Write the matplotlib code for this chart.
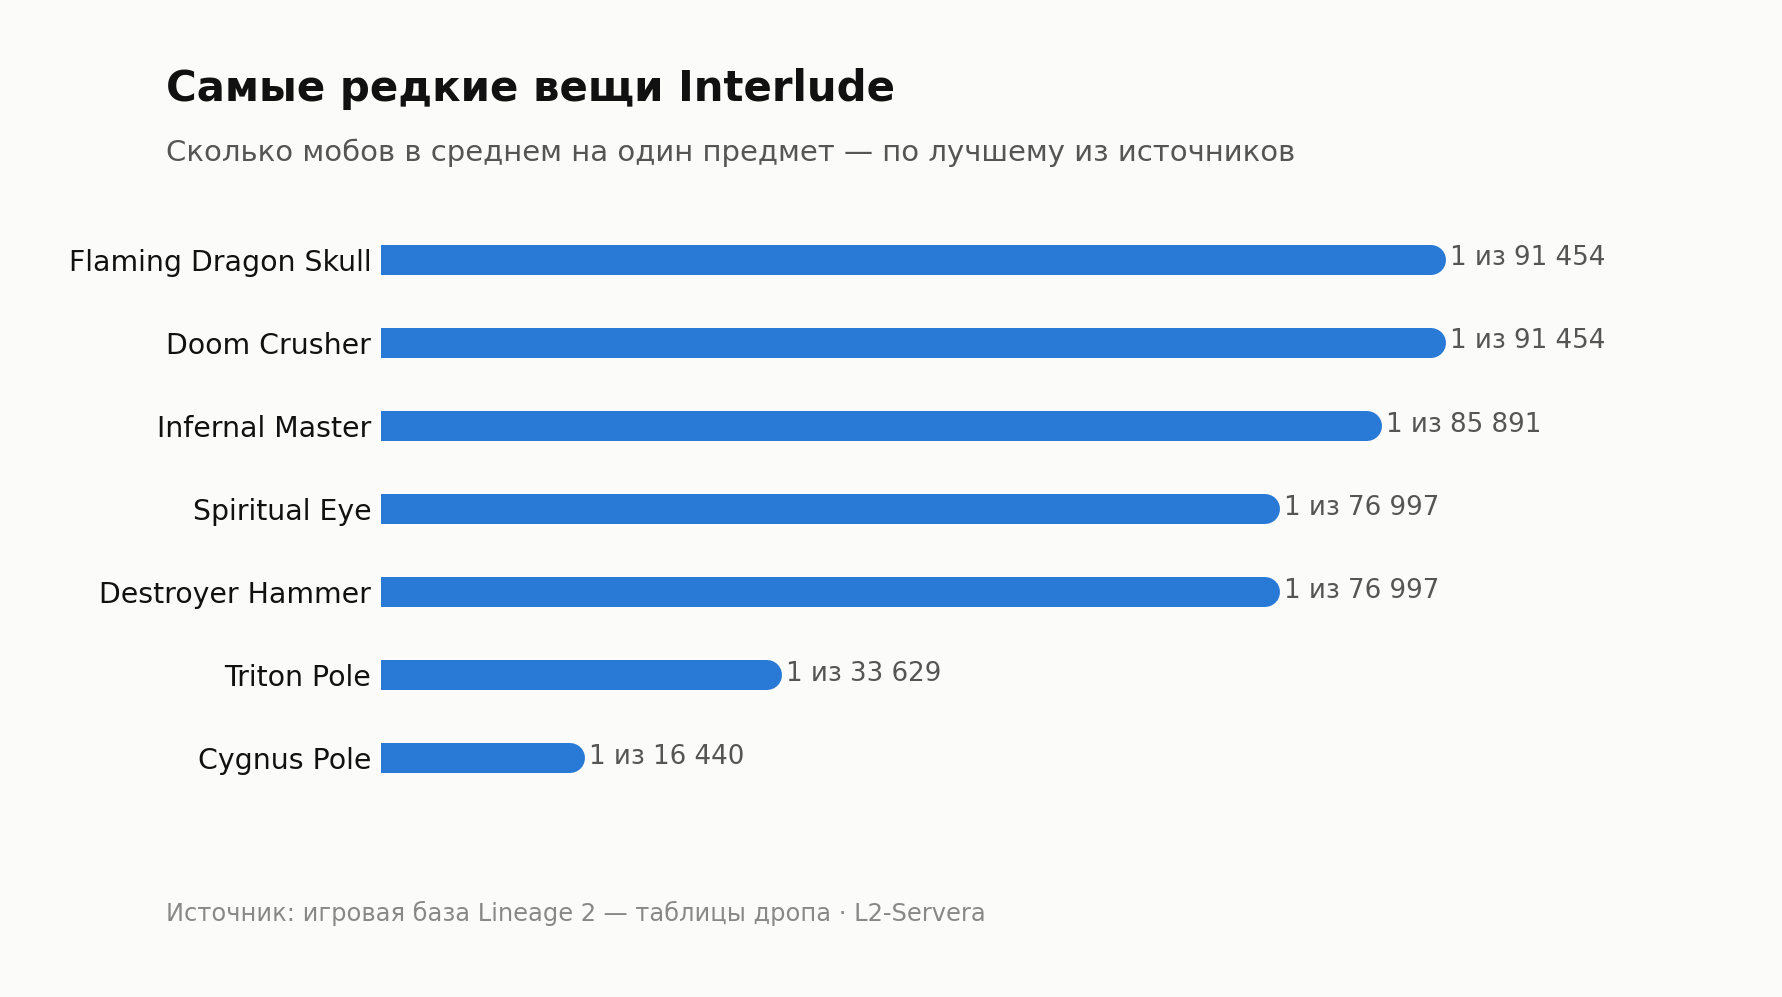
import matplotlib.pyplot as plt

items = ["Flaming Dragon Skull", "Doom Crusher", "Infernal Master", "Spiritual Eye",
         "Destroyer Hammer", "Triton Pole", "Cygnus Pole"]
mobs = [91454, 91454, 85891, 76997, 76997, 33629, 16440]

W, H = 1783, 997
bg = "#fbfbf9"
blue = "#2979d6"

fig = plt.figure(figsize=(W / 100, H / 100), dpi=100, facecolor=bg)
# axes placed in pixels: bars start at x=381, the value scale spans 1050 px
ax = fig.add_axes([381 / W, 1 - 800 / H, 1050 / W, 581.5 / H])
ax.set_facecolor(bg)
ax.set_xlim(0, max(mobs))
ax.set_ylim(len(items) - 0.5, -0.5)

px = max(mobs) / 1050  # data units per pixel
bar_h = 30 / 83.08
r = 15 * px  # cap radius in data units
lw = 30 * 0.72  # bar height in points

for i, (name, v) in enumerate(zip(items, mobs)):
    ax.barh(i, v, height=bar_h, color=blue, linewidth=0)
    # rounded end sticks out past the value by the cap radius
    ax.plot([v - r, v], [i, i], color=blue, lw=lw, solid_capstyle="round",
            clip_on=False)
    ax.text(v + r + 4 * px, i - 0.02, f"1 из {v:,}".replace(",", " "),
            va="center", ha="left", fontsize=18.8, color="#555555")

ax.set_yticks(range(len(items)))
ax.set_yticklabels(items, fontsize=20.4, color="#111111")
ax.tick_params(axis="y", length=0, pad=7)
ax.set_xticks([])
for s in ax.spines.values():
    s.set_visible(False)

fig.text(166 / W, 1 - 101 / H, "Самые редкие вещи Interlude", fontsize=30.2,
         fontweight="bold", color="#111111", va="baseline")
fig.text(166 / W, 1 - 161 / H,
         "Сколько мобов в среднем на один предмет — по лучшему из источников",
         fontsize=21, color="#555555", va="baseline")
fig.text(166 / W, 1 - 921 / H,
         "Источник: игровая база Lineage 2 — таблицы дропа · L2-Servera",
         fontsize=17.4, color="#888888", va="baseline")

fig.savefig("out.png", dpi=100, facecolor=bg)
